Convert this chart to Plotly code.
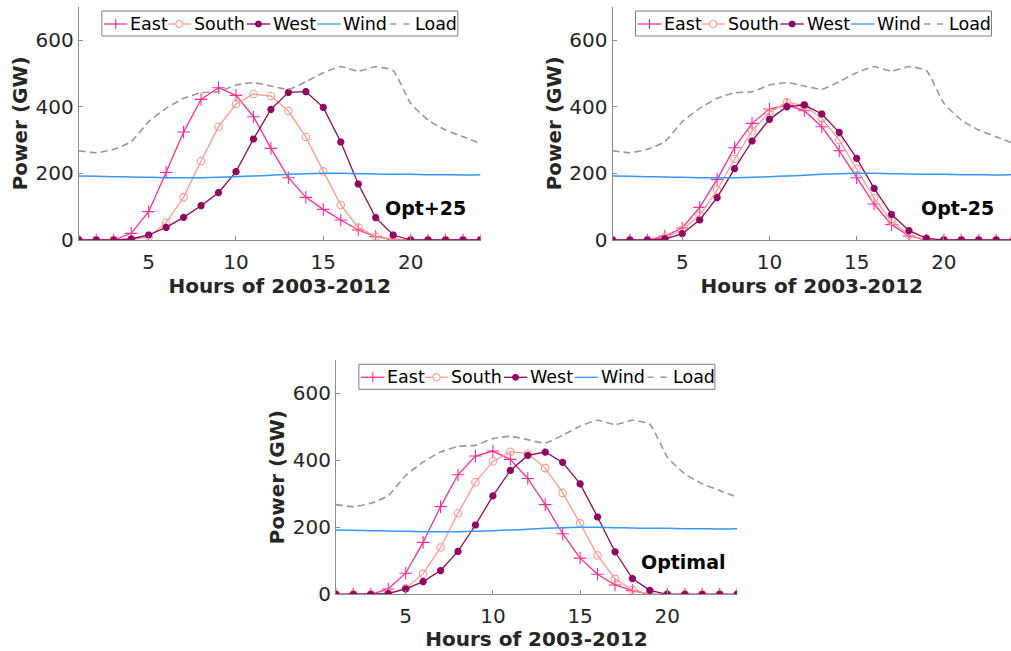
import plotly.graph_objects as go

hours = list(range(1, 25))

load = [268, 262, 272, 295, 355, 395, 425, 442, 445, 465, 472, 462,
        452, 475, 502, 520, 507, 520, 508, 410, 360, 330, 310, 290]
wind = [192, 191, 190, 189, 188, 187, 187, 187, 188, 190, 192, 194,
        197, 199, 200, 200, 199, 198, 197, 197, 196, 196, 195, 196]

# Opt+25
east_p25 = [0, 0, 0, 20, 85, 203, 324, 422, 457, 434, 370, 275,
            187, 128, 92, 60, 30, 10, 2, 0, 0, 0, 0, 0]
south_p25 = [0, 0, 0, 0, 10, 52, 128, 237, 340, 408, 438, 432,
             387, 309, 206, 105, 37, 10, 0, 0, 0, 0, 0, 0]
west_p25 = [0, 0, 0, 3, 15, 38, 68, 103, 142, 205, 303, 392,
            443, 445, 398, 294, 168, 67, 15, 0, 0, 0, 0, 0]

# Opt-25
east_m25 = [0, 0, 0, 12, 36, 98, 182, 277, 350, 393, 405, 388,
            340, 268, 187, 108, 46, 12, 0, 0, 0, 0, 0, 0]
south_m25 = [0, 0, 0, 8, 30, 75, 150, 243, 327, 383, 413, 404,
             365, 300, 213, 126, 57, 15, 0, 0, 0, 0, 0, 0]
west_m25 = [0, 0, 0, 3, 19, 60, 127, 214, 297, 362, 400, 405,
            378, 323, 245, 155, 77, 28, 5, 0, 0, 0, 0, 0]

# Optimal
east_opt = [0, 0, 0, 16, 63, 155, 262, 357, 413, 428, 403, 346,
            268, 181, 108, 60, 28, 11, 0, 0, 0, 0, 0, 0]
south_opt = [0, 0, 0, 3, 18, 61, 140, 242, 335, 397, 426, 420,
             377, 303, 212, 116, 46, 13, 0, 0, 0, 0, 0, 0]
west_opt = [0, 0, 0, 2, 16, 38, 71, 128, 207, 294, 370, 415,
            425, 394, 330, 231, 127, 47, 12, 0, 0, 0, 0, 0]

series_names = ["East", "South", "West", "Wind", "Load"]
scenario_names = ["Opt+25", "Opt-25", "Optimal"]
panels = [
    (east_p25, south_p25, west_p25),
    (east_m25, south_m25, west_m25),
    (east_opt, south_opt, west_opt),
]
x_ticks = [5, 10, 15, 20]
y_ticks = [0, 200, 400, 600]

C_EAST = "#FF2E93"
C_SOUTH = "#FF9A8E"
C_WEST = "#8E0A62"
C_WIND = "#3399FF"
C_LOAD = "#999999"
FONT = "DejaVu Sans"
TXT = "#262626"
AX = "#8c8c8c"

W, H = 1011, 651
# plot area pixel boxes: (x0, x1, ytop, ybottom)
boxes = [(78.8, 480.5, 6.7, 240.0), (612.5, 1011.0, 6.7, 240.0), (335.9, 737.1, 360.0, 594.3)]
xmax = [24, 1 + (1011 - 612.5) / 17.44, 24]
label_pos = [(20.87, 95), (20.8, 96), (20.92, 98)]

def px(x):
    return x / W

def py(y):
    return 1 - y / H

fig = go.Figure()
shapes = []
for i, (east, south, west) in enumerate(panels):
    sfx = "" if i == 0 else str(i + 1)
    xa, ya = "x" + sfx, "y" + sfx
    common = dict(x=hours, xaxis=xa, yaxis=ya, showlegend=False, cliponaxis=True)
    fig.add_trace(go.Scatter(y=east, name=series_names[0], mode="lines+markers",
                             line=dict(color=C_EAST, width=1.3),
                             marker=dict(symbol="cross-thin", size=9, line=dict(color=C_EAST, width=1.1)),
                             **common))
    fig.add_trace(go.Scatter(y=south, name=series_names[1], mode="lines+markers",
                             line=dict(color=C_SOUTH, width=1.3),
                             marker=dict(symbol="circle-open", size=7.5, color=C_SOUTH, line=dict(width=1.1)),
                             **common))
    fig.add_trace(go.Scatter(y=west, name=series_names[2], mode="lines+markers",
                             line=dict(color=C_WEST, width=1.3),
                             marker=dict(symbol="asterisk-open", size=6, line=dict(color=C_WEST, width=2.4)),
                             **common))
    fig.add_trace(go.Scatter(y=wind, name=series_names[3], mode="lines",
                             line=dict(color=C_WIND, width=1.5, shape="spline", smoothing=0.6),
                             **common))
    fig.add_trace(go.Scatter(y=load, name=series_names[4], mode="lines",
                             line=dict(color=C_LOAD, width=1.6, dash="7px,4px", shape="spline", smoothing=0.5),
                             **common))

    x0, x1, yt, yb = boxes[i]
    axis_common = dict(showgrid=False, zeroline=False, showline=True, linecolor=AX, linewidth=1,
                       ticks="inside", ticklen=4, tickcolor=AX, tickwidth=1, automargin=False,
                       tickfont=dict(family=FONT, size=20, color=TXT), mirror=False)
    fig.layout["xaxis" + sfx] = dict(
        domain=[px(x0), px(x1)], range=[1, xmax[i]], anchor=ya,
        tickvals=x_ticks, ticklabelstandoff=4,
        title=dict(text="<b>Hours of 2003-2012</b>", font=dict(family=FONT, size=20, color=TXT), standoff=0),
        **axis_common)
    fig.layout["yaxis" + sfx] = dict(
        domain=[py(yb), py(yt)], range=[0, 700], anchor=xa,
        tickvals=y_ticks,
        title=dict(text="<b>Power (GW)</b>", font=dict(family=FONT, size=20, color=TXT), standoff=2),
        **axis_common)
    fig.add_annotation(x=label_pos[i][0], y=label_pos[i][1], xref=xa, yref=ya,
                       text="<b>" + scenario_names[i] + "</b>", showarrow=False,
                       font=dict(family=FONT, size=19, color="black"))

    # legend key (box, line samples, glyphs and real-text labels)
    bl, bt = x0 + 23.0, yt + 4.3
    bw, bh = 356.0, 25.0
    cy = bt + bh / 2 + 0.5
    shapes.append(dict(type="rect", xref="paper", yref="paper", layer="above",
                       x0=px(bl), x1=px(bl + bw), y0=py(bt), y1=py(bt + bh),
                       line=dict(color="#7f7f7f", width=1), fillcolor="white"))
    starts = [2.3, 66.0, 145.0, 215.6, 287.6]
    colors = [C_EAST, C_SOUTH, C_WEST, C_WIND, C_LOAD]
    for k, nm in enumerate(series_names):
        s = bl + starts[k]
        if nm == "Load":
            shapes.append(dict(type="line", xref="paper", yref="paper", layer="above",
                               x0=px(s + 1), x1=px(s + 20), y0=py(cy), y1=py(cy),
                               line=dict(color=colors[k], width=1.6, dash="6px,7px")))
        else:
            shapes.append(dict(type="line", xref="paper", yref="paper", layer="above",
                               x0=px(s), x1=px(s + 23.3), y0=py(cy), y1=py(cy),
                               line=dict(color=colors[k], width=1.3)))
        cx = s + 11.65
        if nm == "East":
            shapes.append(dict(type="line", xref="paper", yref="paper", layer="above",
                               x0=px(cx), x1=px(cx), y0=py(cy - 5), y1=py(cy + 5),
                               line=dict(color=colors[k], width=1.1)))
        elif nm == "South":
            shapes.append(dict(type="circle", xref="paper", yref="paper", layer="above",
                               x0=px(cx - 3.5), x1=px(cx + 3.5), y0=py(cy - 3.5), y1=py(cy + 3.5),
                               line=dict(color=colors[k], width=1.1), fillcolor="white"))
        elif nm == "West":
            shapes.append(dict(type="circle", xref="paper", yref="paper", layer="above",
                               x0=px(cx - 3), x1=px(cx + 3), y0=py(cy - 3), y1=py(cy + 3),
                               line=dict(color=colors[k], width=1), fillcolor=colors[k]))
        fig.add_annotation(x=px(s + 25.0), y=py(cy), xref="paper", yref="paper",
                           xanchor="left", yanchor="middle", text=nm, showarrow=False,
                           borderpad=0, font=dict(family=FONT, size=17.5, color="black"))

fig.update_layout(width=W, height=H, margin=dict(l=0, r=0, t=0, b=0),
                  paper_bgcolor="white", plot_bgcolor="white", showlegend=False,
                  shapes=shapes)

fig.write_html("out.html")
